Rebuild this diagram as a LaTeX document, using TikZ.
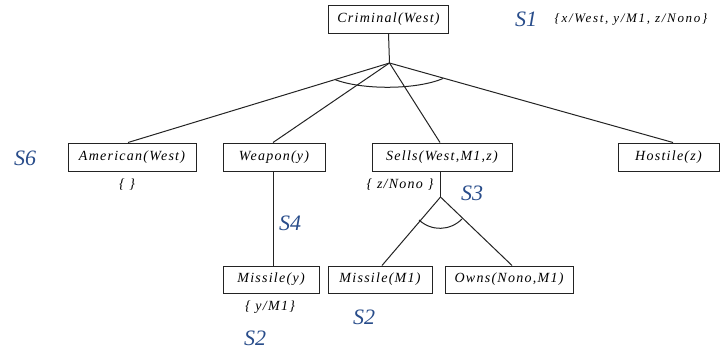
\documentclass[tikz,border=0pt]{standalone}
\usepackage{fontspec}
\setmainfont{Liberation Serif}
\newfontfamily\boxfont[LetterSpace=9]{Liberation Serif}
\newfontfamily\subfont[LetterSpace=13]{Liberation Serif}
\definecolor{steplabel}{RGB}{40,76,138}
\definecolor{boxline}{RGB}{35,35,35}
\tikzset{
  goal/.style={draw=boxline, line width=1pt, inner sep=0pt, minimum height=28pt,
    font=\boxfont\itshape\fontsize{14}{16}\selectfont},
  binding/.style={inner sep=0pt, font=\boxfont\itshape\fontsize{14}{16}\selectfont},
  stepname/.style={inner sep=0pt, text=steplabel, font=\itshape\fontsize{22}{25}\selectfont},
  link/.style={draw=boxline, line width=1pt}
}
\begin{document}
\begin{tikzpicture}[x=1pt, y=-1pt]
\path[use as bounding box] (0,0) rectangle (722,354);

% goals of the proof tree
\node[goal, minimum width=120pt] (crim)  at (388.5,19)  {Criminal(West)};
\node[goal, minimum width=128pt] (amer)  at (132,157)   {American(West)};
\node[goal, minimum width=102pt] (weap)  at (274,157)   {Weapon(y)};
\node[goal, minimum width=140pt] (sells) at (442,157)   {Sells(West,M1,z)};
\node[goal, minimum width=101pt] (host)  at (668.5,157) {Hostile(z)};
\node[goal, minimum width=96pt, minimum height=27pt]  (misy)  at (271,279.5) {Missile(y)};
\node[goal, minimum width=104pt, minimum height=27pt] (mism1) at (380,279.5) {Missile(M1)};
\node[goal, minimum width=128pt, minimum height=27pt] (owns)  at (509,279.5) {Owns(Nono,M1)};

% branching points of the AND links
\coordinate (apex) at (389.5,63);
\coordinate (sub)  at (440.5,197);

\draw[link] (crim.south) -- (apex);
\draw[link] (apex) -- ([xshift=-4pt]amer.north);
\draw[link] (apex) -- ([xshift=-1pt]weap.north);
\draw[link] (apex) -- ([xshift=-2pt]sells.north);
\draw[link] (apex) -- ([xshift=4.5pt]host.north);
\draw[link] (335,79.6) .. controls (362,90) and (416,90) .. (443,78.5);

\draw[link] ([xshift=-0.5pt]weap.south) -- ([xshift=2.5pt]misy.north);

\draw[link] ([xshift=-1.5pt]sells.south) -- (sub);
\draw[link] (sub) -- ([xshift=2pt]mism1.north);
\draw[link] (sub) -- ([xshift=3pt]owns.north);
\draw[link] (419,220) .. controls (431.5,231.5) and (450,231) .. (462,219);

% substitutions
\node[binding] (b1) at (127,185) {\{\ \}};
\node[binding] (b3) at (400,185) {\{ z/Nono \}};
\node[binding] (b2) at (270,307) {\{ y/M1\}};
\node[inner sep=0pt, font=\subfont\itshape\fontsize{13}{15}\selectfont] (theta) at (631,19) {\{x/West, y/M1, z/Nono\}};

% step names
\node[stepname] (s1)  at (526,19.5) {S1};
\node[stepname] (s6)  at (25,158)   {S6};
\node[stepname] (s3)  at (472,193)  {S3};
\node[stepname] (s4)  at (290,223)  {S4};
\node[stepname] (s2a) at (364,317)  {S2};
\node[stepname] (s2b) at (255,338)  {S2};
\end{tikzpicture}
\end{document}
